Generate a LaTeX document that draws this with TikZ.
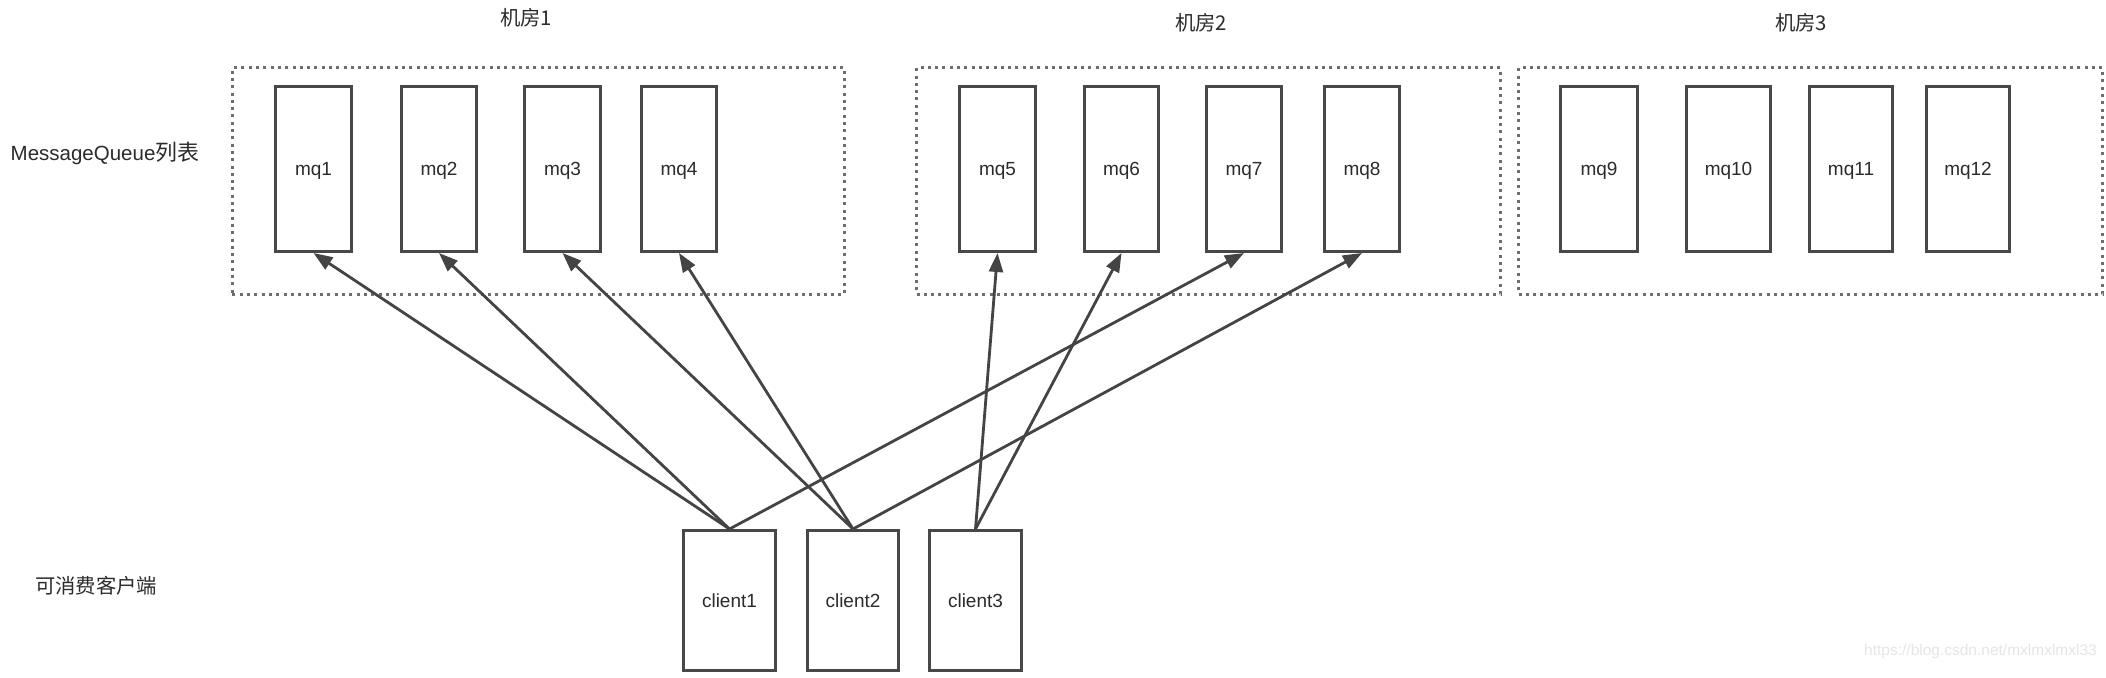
\documentclass[tikz,border=0pt]{standalone}
\usepackage{fontspec}
\setmainfont{Liberation Sans}
\newfontfamily\cjk[Scale=1.07]{Noto Sans CJK SC}
\usetikzlibrary{arrows.meta}
\definecolor{boxc}{HTML}{484848}
\definecolor{linec}{HTML}{444444}
\definecolor{dotc}{HTML}{6E6E6E}
\definecolor{txtc}{HTML}{2B2B2B}
\definecolor{wmc}{HTML}{E6E6E6}
\begin{document}
\begin{tikzpicture}[x=1bp,y=-1bp,
  every node/.style={font=\fontsize{19bp}{22bp}\selectfont, text=txtc, inner sep=0pt},
  mqbox/.style={draw=boxc, line width=3bp, fill=white, minimum height=165bp, rectangle, text depth=0pt},
  clbox/.style={draw=boxc, line width=3bp, fill=white, minimum height=140bp, rectangle, text depth=0pt},
  room/.style={draw=dotc, line width=3bp, dash pattern=on 3bp off 4.3bp, rectangle},
  link/.style={draw=linec, line width=2.8bp, -{Triangle[length=19bp,width=14bp]}},
  lbl/.style={}
]
\useasboundingbox (0,0) rectangle (2106,678);
\fill[white] (0,0) rectangle (2106,678);

% room boxes
\node[room, minimum width=612bp, minimum height=226bp] (room1) at (538.5,181) {};
\node[room, minimum width=584bp, minimum height=226bp] (room2) at (1208.5,181) {};
\node[room, minimum width=584bp, minimum height=226bp] (room3) at (1810.5,181) {};

% room labels
\node[lbl] (r1lbl) at (526,18) {\cjk 机房1};
\node[lbl] (r2lbl) at (1201,23) {\cjk 机房2};
\node[lbl] (r3lbl) at (1801,23) {\cjk 机房3};

% side labels
\node[lbl, font=\fontsize{20.5bp}{24bp}\selectfont] (mqlbl) at (105,153) {MessageQueue{\cjk 列表}};
\node[lbl] (cllbl) at (96,586) {\cjk 可消费客户端};

% mq boxes
\node[mqbox, minimum width=76bp] (mq1) at (313.5,169) {mq1};
\node[mqbox, minimum width=75bp] (mq2) at (439,169) {mq2};
\node[mqbox, minimum width=76bp] (mq3) at (562.5,169) {mq3};
\node[mqbox, minimum width=75bp] (mq4) at (679,169) {mq4};
\node[mqbox, minimum width=76bp] (mq5) at (997.5,169) {mq5};
\node[mqbox, minimum width=74bp] (mq6) at (1121.5,169) {mq6};
\node[mqbox, minimum width=75bp] (mq7) at (1244,169) {mq7};
\node[mqbox, minimum width=75bp] (mq8) at (1362,169) {mq8};
\node[mqbox, minimum width=77bp] (mq9) at (1599,169) {mq9};
\node[mqbox, minimum width=84bp] (mq10) at (1728.5,169) {mq10};
\node[mqbox, minimum width=83bp] (mq11) at (1851,169) {mq11};
\node[mqbox, minimum width=83bp] (mq12) at (1968,169) {mq12};

% client boxes
\node[clbox, minimum width=92bp] (c1) at (729.5,600.5) {client1};
\node[clbox, minimum width=91bp] (c2) at (853,600.5) {client2};
\node[clbox, minimum width=92bp] (c3) at (975.5,600.5) {client3};

% links
\draw[link] (c1.north) -- (mq1.south);
\draw[link] (c1.north) -- (mq2.south);
\draw[link] (c1.north) -- (mq7.south);
\draw[link] (c2.north) -- (mq3.south);
\draw[link] (c2.north) -- (mq4.south);
\draw[link] (c2.north) -- (mq8.south);
\draw[link] (c3.north) -- (mq5.south);
\draw[link] (c3.north) -- (mq6.south);

% watermark
\node[font=\fontsize{15.5bp}{18bp}\selectfont, text=wmc, anchor=east] (wm) at (2097,651) {https://blog.csdn.net/mxlmxlmxl33};
\end{tikzpicture}
\end{document}
